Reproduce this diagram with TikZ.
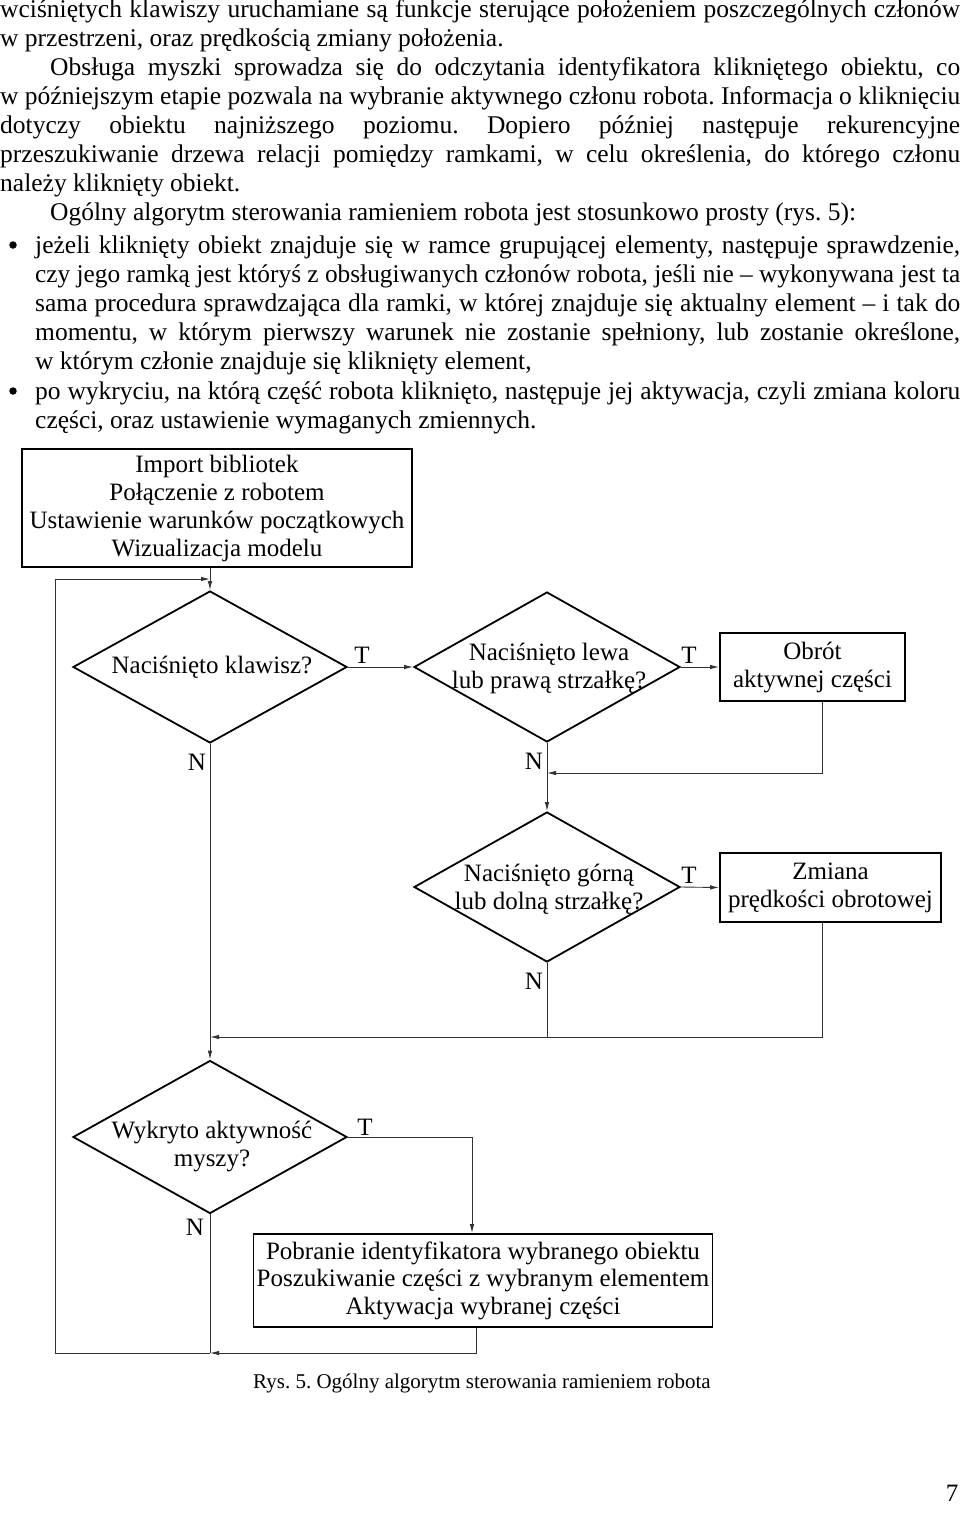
\documentclass[tikz,border=0pt]{standalone}
\usepackage{fontspec}
\usepackage{graphicx}
\setmainfont{Liberation Serif}
\usetikzlibrary{shapes.geometric,arrows.meta,calc}
\frenchspacing
\newcommand\figfont{\fontsize{25}{28}\selectfont}
\newcommand\parfont{\fontsize{25.5}{29}\selectfont}
\newcommand\jline[2]{\sbox0{#2}\ifdim\wd0>#1\relax\resizebox{#1}{\height}{#2}\else\makebox[#1][s]{#2}\fi}
\begin{document}
\begin{tikzpicture}[x=1pt,y=-1pt,
  proc/.style={draw, rectangle, line width=1.8pt, inner sep=0pt, align=center, font=\figfont},
  dec/.style={draw, diamond, line width=1.8pt, inner sep=0pt},
  lab/.style={inner sep=0pt, align=center, font=\figfont},
  conn/.style={line width=0.9pt, draw=black!80},
  arr/.style={conn, -{Latex[length=9pt,width=4.5pt]}},
  bul/.style={circle, fill=black, inner sep=0pt, minimum size=7.5pt},
  ptxt/.style={inner sep=0pt, anchor=base west, font=\parfont}]
\useasboundingbox (0,0) rectangle (960,1515);
\fill[white] (0,0) rectangle (960,1515);

% paragraph text
\node[ptxt] (p1) at (0,17) {\jline{960pt}{wciśniętych klawiszy uruchamiane są funkcje sterujące położeniem poszczególnych członów}};
\node[ptxt] (p2) at (0,46) {w przestrzeni, oraz prędkością zmiany położenia.};
\node[ptxt] (p3) at (50,75) {\jline{910pt}{Obsługa myszki sprowadza się do odczytania identyfikatora klikniętego obiektu, co}};
\node[ptxt] (p4) at (0,104) {\jline{960pt}{w późniejszym etapie pozwala na wybranie aktywnego członu robota. Informacja o kliknięciu}};
\node[ptxt] (p5) at (0,133) {\jline{960pt}{dotyczy obiektu najniższego poziomu. Dopiero później następuje rekurencyjne}};
\node[ptxt] (p6) at (0,162) {\jline{960pt}{przeszukiwanie drzewa relacji pomiędzy ramkami, w celu określenia, do którego członu}};
\node[ptxt] (p7) at (0,191) {należy kliknięty obiekt.};
\node[ptxt] (p8) at (50,220) {Ogólny algorytm sterowania ramieniem robota jest stosunkowo prosty (rys. 5):};
\node[bul] (b1) at (13,245) {};
\node[ptxt] (p9) at (35,253) {\jline{925pt}{jeżeli kliknięty obiekt znajduje się w ramce grupującej elementy, następuje sprawdzenie,}};
\node[ptxt] (p10) at (35,282) {\jline{925pt}{czy jego ramką jest któryś z obsługiwanych członów robota, jeśli nie – wykonywana jest ta}};
\node[ptxt] (p11) at (35,311) {\jline{925pt}{sama procedura sprawdzająca dla ramki, w której znajduje się aktualny element – i tak do}};
\node[ptxt] (p12) at (35,340) {\jline{925pt}{momentu, w którym pierwszy warunek nie zostanie spełniony, lub zostanie określone,}};
\node[ptxt] (p13) at (35,369) {w którym członie znajduje się kliknięty element,};
\node[bul] (b2) at (13,391) {};
\node[ptxt] (p14) at (35,399) {\jline{925pt}{po wykryciu, na którą część robota kliknięto, następuje jej aktywacja, czyli zmiana koloru}};
\node[ptxt] (p15) at (35,428) {części, oraz ustawienie wymaganych zmiennych.};

% flowchart nodes
\node[proc, minimum width=390pt, minimum height=118pt] (init) at (217,508)
  {Import bibliotek\\Połączenie z robotem\\Ustawienie warunków początkowych\\Wizualizacja modelu};
\node[dec, minimum width=274pt, minimum height=152pt] (d1) at (210,667) {};
\node[lab] (d1t) at (212,667) {Naciśnięto klawisz?};
\node[dec, minimum width=266pt, minimum height=150pt] (d2) at (547,667) {};
\node[lab] (d2t) at (549,668) {Naciśnięto lewa\\lub prawą strzałkę?};
\node[proc, minimum width=185pt, minimum height=68pt] (obrot) at (812.5,667) {Obrót\\aktywnej części};
\node[dec, minimum width=266pt, minimum height=150pt] (d3) at (547,887) {};
\node[lab] (d3t) at (549,889) {Naciśnięto górną\\lub dolną strzałkę?};
\node[proc, minimum width=221pt, minimum height=69pt] (zmiana) at (830.5,887.5) {Zmiana\\prędkości obrotowej};
\node[dec, minimum width=274pt, minimum height=153pt] (d4) at (210,1137) {};
\node[lab] (d4t) at (212,1146) {Wykryto aktywność\\myszy?};
\node[proc, minimum width=459pt, minimum height=93pt, font=\fontsize{25}{27.5}\selectfont] (act) at (483,1280.5)
  {Pobranie identyfikatora wybranego obiektu\\Poszukiwanie części z wybranym elementem\\Aktywacja wybranej części};

% T / N labels
\node[lab] (t1) at (362,655) {T};
\node[lab] (t2) at (689,655) {T};
\node[lab] (t3) at (689,875) {T};
\node[lab] (t4) at (365,1127) {T};
\node[lab] (n1) at (197,762) {N};
\node[lab] (n2) at (534,761) {N};
\node[lab] (n3) at (534,981) {N};
\node[lab] (n4) at (195,1227) {N};

% caption and page number
\node[inner sep=0pt, font=\fontsize{21}{24}\selectfont] (cap) at (482,1383) {Rys. 5. Ogólny algorytm sterowania ramieniem robota};
\node[inner sep=0pt, font=\figfont] (pg) at (952,1493) {7};

% coordinates
\coordinate (c1) at (822,773);
\coordinate (c2) at (822,1037);
\coordinate (c3) at (472,1137);
\coordinate (c4) at (476,1353);
\coordinate (c5) at (55,1353);
\coordinate (c6) at (55,579);

% connectors
\draw[arr] (init.south -| d1.north) -- (d1.north);
\draw[arr] (d1.east) -- (d2.west);
\draw[arr] (d2.east) -- (obrot.west);
\draw[arr] (d2.south) -- (d3.north);
\draw[arr] (d3.east) -- (zmiana.west);
\draw[arr] (obrot.south -| c1) -- (c1) -- (c1 -| d2.south);
\draw[arr] (zmiana.south -| c2) -- (c2) -- (c2 -| d1.south);
\draw[conn] (d3.south) -- (d3.south |- c2);
\draw[arr] (d1.south) -- (d4.north);
\draw[arr] (d4.east) -- (c3) -- (c3 |- act.north);
\draw[arr] (act.south -| c4) -- (c4) -- (c4 -| d4.south);
\draw[conn] (d4.south) -- (d4.south |- c4);
\draw[arr] (c4 -| d4.south) -- (c5) -- (c6) -- (c6 -| d1.north);
\end{tikzpicture}
\end{document}
